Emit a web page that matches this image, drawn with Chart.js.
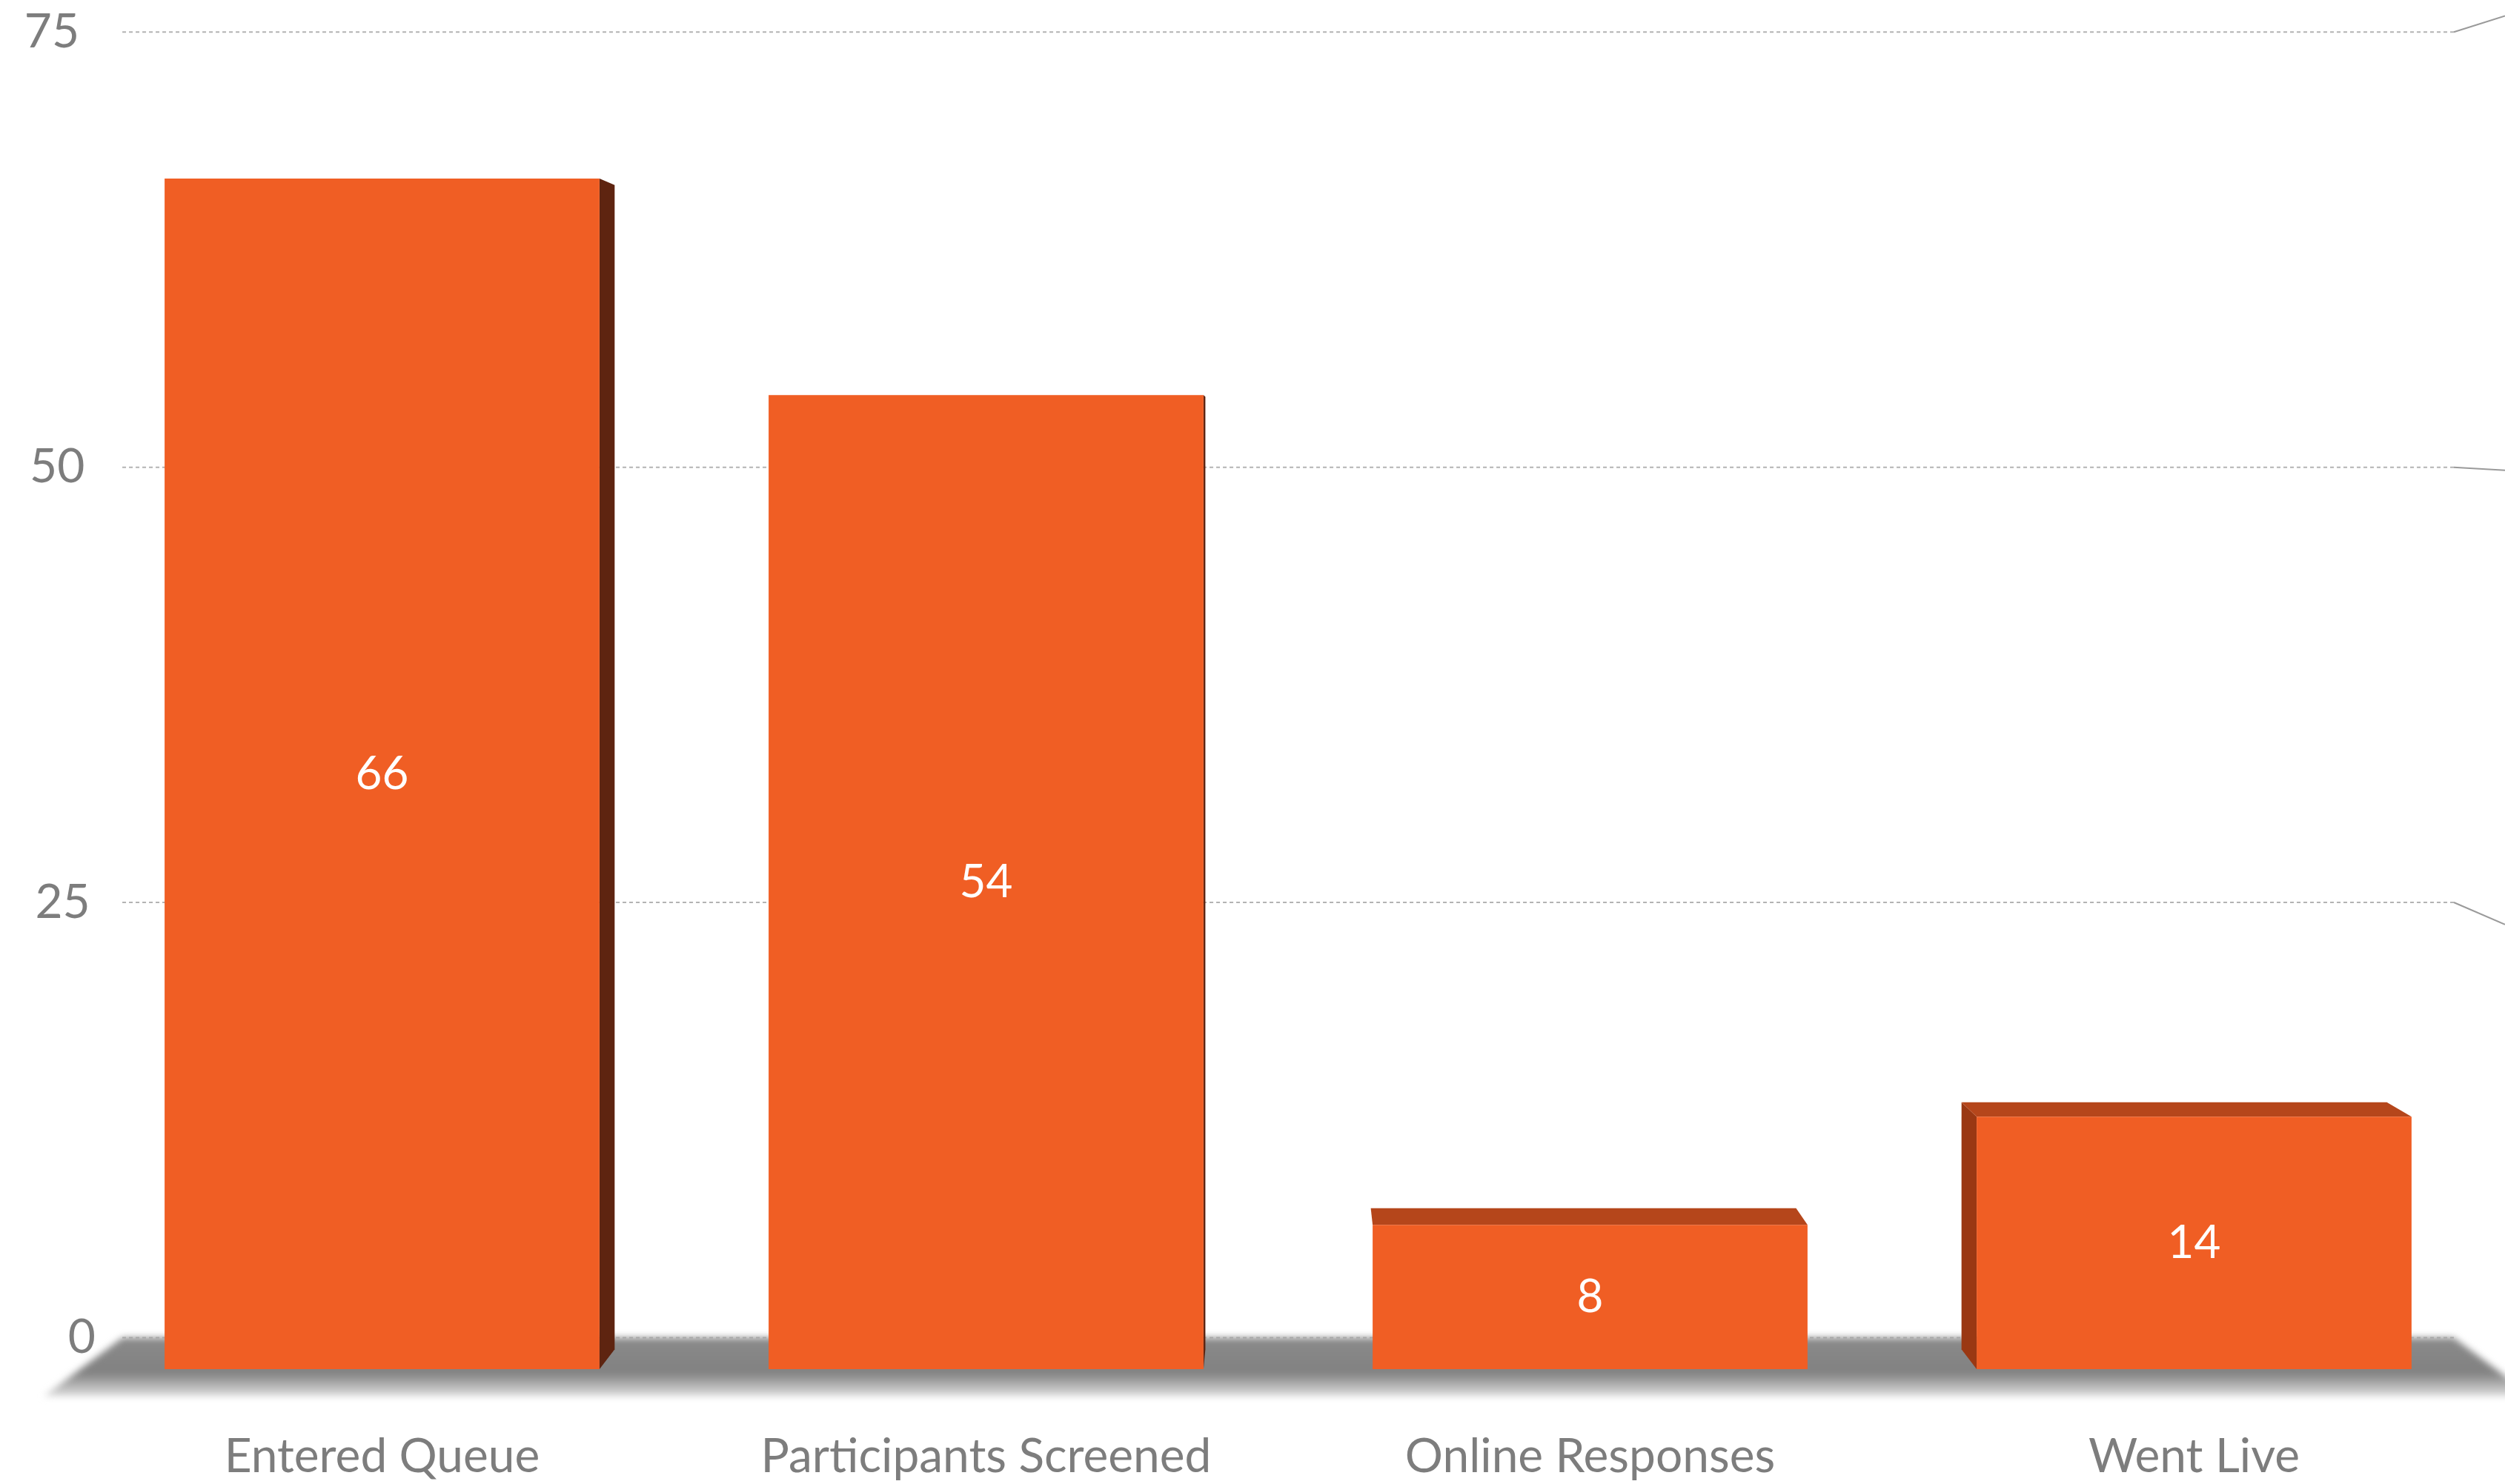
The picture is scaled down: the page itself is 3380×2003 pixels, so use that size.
<!DOCTYPE html>
<html lang="en">
<head>
  <meta charset="UTF-8">
  <title>Participant Funnel</title>
  <script src="https://cdn.jsdelivr.net/npm/chart.js"></script>
  <style>
    html, body { margin: 0; padding: 0; background: #ffffff; }
    #wrap { width: 3380px; height: 2003px; }
  </style>
</head>
<body>
  <div id="wrap">
    <canvas id="funnelChart" width="3380" height="2003"></canvas>
  </div>

  <script>
    // stages and participant counts
    const stages = ["Entered Queue", "Participants Screened", "Online Responses", "Went Live"];
    const counts = [66, 54, 8, 14];
    const yTicks = [0, 25, 50, 75];

    const ORANGE = "#F05E24";
    const SIDE_RIGHT = "#5E2410";
    const SIDE_LEFT = "#9A3813";
    const TOP_FACE = "#B5461B";
    const TEXT_GRAY = "#7d7d7d";
    const FONT = "Lato, 'Open Sans', sans-serif";

    const BACK = 0.965;      // depth of the back wall (perspective scale)
    const BAR_DEPTH = 0.978; // depth of each bar box
    const FRONT = 1.03;      // front lip of the floor

    // draws floor, back-wall grid and the side/top faces of each bar
    const box3d = {
      id: "box3d",
      beforeDatasetsDraw(chart) {
        const { ctx, chartArea: ca, scales: { y } } = chart;
        const vx = (ca.left + ca.right) / 2;
        const vy = y.getPixelForValue(50);
        const proj = (px, py, s) => [vx + (px - vx) * s, vy + (py - vy) * s];
        const y0 = y.getPixelForValue(0);

        // floor
        const bl = proj(ca.left, y0, BACK), br = proj(ca.right, y0, BACK);
        const fr = proj(ca.right, y0, FRONT), fl = proj(ca.left, y0, FRONT);
        ctx.save();
        ctx.filter = "blur(5px)";
        const g = ctx.createLinearGradient(0, bl[1], 0, fl[1]);
        g.addColorStop(0, "#8a8a8a");
        g.addColorStop(0.6, "#818181");
        g.addColorStop(1, "#dedede");
        ctx.fillStyle = g;
        ctx.beginPath();
        ctx.moveTo(bl[0], bl[1]);
        ctx.lineTo(br[0], br[1]);
        ctx.lineTo(fr[0], fr[1]);
        ctx.lineTo(fl[0], fl[1]);
        ctx.closePath();
        ctx.fill();
        ctx.restore();

        // back wall grid, side wall edges and tick labels
        ctx.save();
        ctx.font = "400 64px " + FONT;
        ctx.fillStyle = TEXT_GRAY;
        ctx.textAlign = "right";
        ctx.textBaseline = "middle";
        yTicks.forEach(v => {
          const yf = y.getPixelForValue(v);
          const [xl, yb] = proj(ca.left, yf, BACK);
          const [xr] = proj(ca.right, yf, BACK);

          ctx.strokeStyle = "rgba(160,160,160,0.8)";
          ctx.lineWidth = 2;
          ctx.setLineDash([5, 4]);
          ctx.beginPath();
          ctx.moveTo(xl, yb);
          ctx.lineTo(xr, yb);
          ctx.stroke();

          if (v > 0) {
            const t = (chart.width - xr) / (ca.right - xr);
            ctx.setLineDash([]);
            ctx.strokeStyle = "#9a9a9a";
            ctx.beginPath();
            ctx.moveTo(xr, yb);
            ctx.lineTo(chart.width, yb + (yf - yb) * t + 4);
            ctx.stroke();
          }

          ctx.fillText(String(v), xl - 58 + (yf - ca.top) * 0.012, yb);
        });
        ctx.restore();

        // bar side and top faces
        const meta = chart.getDatasetMeta(0);
        ctx.save();
        meta.data.forEach(bar => {
          const { x, y: top, base, width } = bar.getProps(["x", "y", "base", "width"], true);
          const L = x - width / 2, R = x + width / 2;
          const face = (pts, color) => {
            ctx.fillStyle = color;
            ctx.beginPath();
            pts.forEach((p, i) => i ? ctx.lineTo(p[0], p[1]) : ctx.moveTo(p[0], p[1]));
            ctx.closePath();
            ctx.fill();
          };
          if (vx - R > 100) {
            face([[R, top], proj(R, top, BAR_DEPTH), proj(R, base, BAR_DEPTH), [R, base]], SIDE_RIGHT);
          }
          if (L - vx > 300) {
            face([[L, top], proj(L, top, BAR_DEPTH), proj(L, base, BAR_DEPTH), [L, base]], SIDE_LEFT);
          }
          if (top > vy) {
            face([[L, top], [R, top], proj(R, top, BAR_DEPTH), proj(L, top, BAR_DEPTH)], TOP_FACE);
          }
        });
        ctx.restore();
      },
      afterDatasetsDraw(chart) {
        const { ctx } = chart;
        const meta = chart.getDatasetMeta(0);
        ctx.save();
        ctx.font = "400 62px " + FONT;
        ctx.fillStyle = "#ffffff";
        ctx.textAlign = "center";
        ctx.textBaseline = "middle";
        meta.data.forEach((bar, i) => {
          const { x, y: top, base } = bar.getProps(["x", "y", "base"], true);
          ctx.fillText(String(counts[i]), x, (top + base) / 2);
        });
        ctx.restore();
      }
    };

    const ctx = document.getElementById("funnelChart").getContext("2d");
    new Chart(ctx, {
      type: "bar",
      data: {
        labels: stages,
        datasets: [{
          data: counts,
          backgroundColor: ORANGE,
          borderWidth: 0,
          barPercentage: 0.72,
          categoryPercentage: 1.0
        }]
      },
      options: {
        responsive: false,
        animation: false,
        devicePixelRatio: 1,
        layout: { padding: { left: 108, right: 12, top: 22, bottom: 0 } },
        plugins: {
          legend: { display: false },
          tooltip: { enabled: false }
        },
        scales: {
          x: {
            grid: { display: false, drawTicks: false },
            border: { display: false },
            ticks: {
              color: TEXT_GRAY,
              font: { family: FONT, size: 64, weight: "400" },
              padding: 80,
              maxRotation: 0,
              autoSkip: false
            },
            afterFit(scale) { scale.height = 155; }
          },
          y: {
            display: false,
            min: 0,
            max: 75
          }
        }
      },
      plugins: [box3d]
    });
  </script>
</body>
</html>
